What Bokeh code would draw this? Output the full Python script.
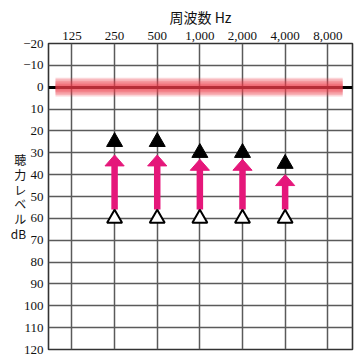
from bokeh.plotting import figure
from bokeh.models import Range1d, FixedTicker, ColumnDataSource
from bokeh.embed import file_html
from bokeh.resources import INLINE

# ---- data ----
freq_pos = [0, 1, 2, 3, 4, 5, 6]
freq_labels = ["125", "250", "500", "1,000", "2,000", "4,000", "8,000"]
db_ticks = [-20, -10, 0, 10, 20, 30, 40, 50, 60, 70, 80, 90, 100, 110, 120]
db_tick_labels = ["−20", "−10", "0", "10", "20", "30", "40", "50", "60",
                  "70", "80", "90", "100", "110", "120"]

meas_pos = [1, 2, 3, 4, 5]                 # 250 .. 4000 Hz
aided_db = [25, 25, 30, 30, 35]            # filled triangles
unaided_db = [60, 60, 60, 60, 60]          # open triangles
arrow_start_db = [56, 56, 56, 56, 56]
arrow_tip_db = [31, 31, 33, 33, 40]
normal_db = 0

ylabel_lines = ["聴", "力", "レ", "ベ", "ル", "dB"]

# ---- figure ----
p = figure(width=364, height=364, output_backend="svg", toolbar_location=None,
           x_range=Range1d(-0.55, 6.58), y_range=Range1d(120, -20),
           x_axis_location="above", min_border_left=48, min_border_right=12,
           min_border_top=43, min_border_bottom=15)
p.background_fill_color = "white"
p.border_fill_color = "white"
p.outline_line_color = "#333333"
p.outline_line_width = 1.6

serif = "Liberation Serif"

xa = p.xaxis[0]
xa.ticker = FixedTicker(ticks=freq_pos)
xa.major_label_overrides = {k: v for k, v in zip(freq_pos, freq_labels)}
xa.axis_label = "周波数 Hz"
xa.axis_label_text_font = "Noto Sans CJK JP"
xa.axis_label_text_font_style = "normal"
xa.axis_label_text_font_size = "14px"
xa.axis_label_standoff = 2
xa.axis_label_text_color = "#111111"

ya = p.yaxis[0]
ya.ticker = FixedTicker(ticks=db_ticks)
ya.major_label_overrides = {k: v for k, v in zip(db_ticks, db_tick_labels)}
ya.axis_label = "\n".join(ylabel_lines)
ya.axis_label_orientation = "horizontal"
ya.axis_label_text_font = "Noto Sans CJK JP"
ya.axis_label_text_font_style = "normal"
ya.axis_label_text_font_size = "12px"
ya.axis_label_text_line_height = 0.87
ya.axis_label_text_align = "center"
ya.axis_label_standoff = -6
ya.axis_label_text_color = "#111111"

for ax in (xa, ya):
    ax.axis_line_color = None
    ax.major_tick_line_color = None
    ax.minor_tick_line_color = None
    ax.major_tick_out = 0
    ax.major_tick_in = 0
    ax.minor_tick_out = 0
    ax.major_label_text_font = serif
    ax.major_label_text_font_size = "13px"
    ax.major_label_text_color = "#111111"
xa.major_label_standoff = 4
ya.major_label_standoff = 5

p.xgrid.ticker = FixedTicker(ticks=freq_pos)
p.ygrid.ticker = FixedTicker(ticks=db_ticks[1:-1])
for g in (p.xgrid, p.ygrid):
    g.grid_line_color = "#5a5a5a"
    g.grid_line_width = 1.5

# 0 dB reference line
p.hspan(y=[normal_db], line_color="black", line_width=3)

# normal-hearing band (soft red, layered)
for h in [4.3, 3.6, 2.9, 2.2, 1.5, 0.8]:
    p.quad(left=-0.386, right=6.35, bottom=normal_db - h, top=normal_db + h,
           fill_color="#EC3A4A", fill_alpha=0.22, line_color=None)

# arrows
head_half = 0.225
head_len = 5
src_arrow = ColumnDataSource(dict(
    x=meas_pos,
    y0=arrow_start_db,
    y1=[t + head_len - 0.3 for t in arrow_tip_db],
))
p.segment(x0="x", y0="y0", x1="x", y1="y1", source=src_arrow,
          line_color="#E5177A", line_width=6.5, line_cap="butt")
head_xs = [[x - head_half, x, x + head_half] for x in meas_pos]
head_ys = [[t + head_len, t, t + head_len] for t in arrow_tip_db]
p.patches(head_xs, head_ys, fill_color="#E5177A", line_color="#E5177A",
          line_width=1)

# triangles
p.scatter(meas_pos, aided_db, marker="triangle", size=16,
          fill_color="black", line_color="black")
p.scatter(meas_pos, unaided_db, marker="triangle", size=15,
          fill_color="white", line_color="black", line_width=2)

open("out.html", "w").write(file_html(p, INLINE))
